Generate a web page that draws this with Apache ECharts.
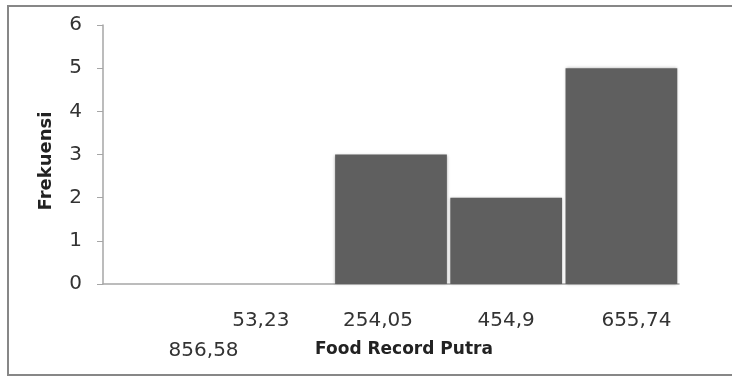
<!DOCTYPE html>
<html>
<head>
<meta charset="utf-8">
<script src="https://cdn.jsdelivr.net/npm/echarts@6/dist/echarts.min.js"></script>
<style>
	body { margin: 0px; background: #fff; }
	#main1 { width: 732px; height: 377px; }
</style>
</head>
<body>
<div id="main1"></div>
<script>
var bins = ['856,58', '53,23', '254,05', '454,9', '655,74'];
var frekuensi = [0, 0, 3, 2, 5];
var yTicks = [0, 1, 2, 3, 4, 5, 6];

// label nudges so the tick labels sit where the original put them
var labelRich = {
	s0: { padding: [30, 0, 0, 86] },
	s1: { padding: [0, 30, 0, 0] },
	s2: { padding: [0, 26, 0, 0] },
	s3: { padding: [0, 0, 0, 0] },
	s4: { padding: [0, 0, 0, 30] }
};

var myChart = echarts.init(document.getElementById('main1'));

var option = {
	animation: false,
	backgroundColor: '#fff',
	textStyle: { fontFamily: 'DejaVu Sans' },
	graphic: [
		{
			type: 'rect',
			shape: { x: 8, y: 6, width: 760, height: 369 },
			style: { fill: 'none', stroke: '#878787', lineWidth: 2 },
			silent: true
		}
	],
	grid: {
		left: 103,
		right: 53,
		top: 25,
		bottom: 93
	},
	xAxis: {
		type: 'category',
		data: bins,
		name: 'Food Record Putra',
		nameLocation: 'middle',
		nameGap: 57,
		nameMoveOverlap: false,
		nameTextStyle: {
			fontFamily: 'DejaVu Sans',
			fontWeight: 'bold',
			fontSize: 17,
			color: '#222',
			padding: [0, 0, 0, 26]
		},
		axisLine: { lineStyle: { color: '#a6a6a6', width: 1.5 } },
		axisTick: { show: false },
		axisLabel: {
			interval: 0,
			margin: 27,
			fontSize: 20,
			color: '#333',
			formatter: function (v, i) {
				return '{s' + i + '|' + v + '}';
			},
			rich: labelRich
		}
	},
	yAxis: {
		type: 'value',
		min: yTicks[0],
		max: yTicks[yTicks.length - 1],
		interval: 1,
		name: 'Frekuensi',
		nameLocation: 'middle',
		nameGap: 48,
		nameRotate: 90,
		nameMoveOverlap: false,
		nameTextStyle: {
			fontFamily: 'DejaVu Sans',
			fontWeight: 'bold',
			fontSize: 18,
			color: '#222',
			padding: [0, 13, 0, 0]
		},
		splitLine: { show: false },
		axisLine: { show: true, lineStyle: { color: '#a6a6a6', width: 1.5 } },
		axisTick: { show: true, length: 6, lineStyle: { color: '#a6a6a6' } },
		axisLabel: { margin: 21, fontSize: 20, color: '#333' }
	},
	series: [
		{
			name: 'Frekuensi',
			type: 'bar',
			data: frekuensi,
			barCategoryGap: '3%',
			itemStyle: {
				color: '#5f5f5f',
				shadowColor: 'rgba(0,0,0,0.35)',
				shadowBlur: 3
			}
		}
	]
};

myChart.setOption(option);
</script>
</body>
</html>
